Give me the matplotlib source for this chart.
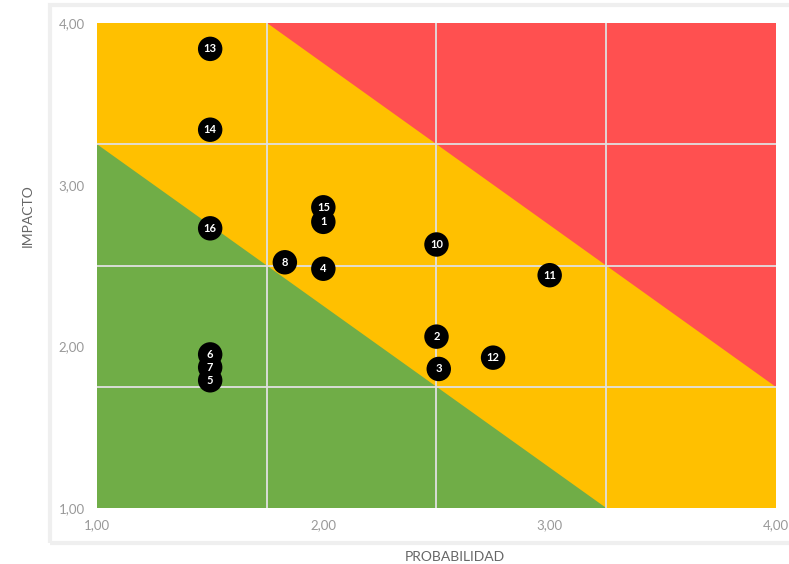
import matplotlib.pyplot as plt
from matplotlib.patches import Polygon, Rectangle

# --- Risk data ---
risk_ids = [1, 2, 3, 4, 5, 6, 7, 8, 10, 11, 12, 13, 14, 15, 16]
probabilidad = [2.00, 2.50, 2.51, 2.00, 1.50, 1.50, 1.50, 1.83, 2.50, 3.00, 2.75, 1.50, 1.50, 2.00, 1.50]
impacto = [2.77, 2.06, 1.86, 2.48, 1.79, 1.95, 1.87, 2.52, 2.63, 2.44, 1.93, 3.84, 3.34, 2.86, 2.73]

tick_values = [1, 2, 3, 4]
tick_labels = ["1,00", "2,00", "3,00", "4,00"]
grid_values = [1.75, 2.5, 3.25]

# zone thresholds (x + y)
low_limit = 4.25
high_limit = 5.75

yellow = '#FFC000'
green = '#70AD47'
red = '#FF5050'

plt.rcParams['font.family'] = ['Lato', 'DejaVu Sans']

fig = plt.figure(figsize=(7.89, 5.64), dpi=100)
ax = fig.add_axes([97 / 789, 56 / 564, 679 / 789, 485 / 564])

# panel frame
fig.patches.append(Rectangle((50 / 789, 21 / 564), 745 / 789, 538 / 564,
                             transform=fig.transFigure, fill=False,
                             edgecolor='#efefef', linewidth=3, zorder=0))

ax.set_xlim(1, 4)
ax.set_ylim(1, 4)

ax.add_patch(Rectangle((1, 1), 3, 3, facecolor=yellow, edgecolor='none', zorder=0))
ax.add_patch(Polygon([(1, 1), (1, low_limit - 1), (low_limit - 1, 1)],
                     facecolor=green, edgecolor='none', zorder=1))
ax.add_patch(Polygon([(high_limit - 4, 4), (4, 4), (4, high_limit - 4)],
                     facecolor=red, edgecolor='none', zorder=1))

for g in grid_values:
    ax.axvline(g, color='#e0e0e0', linewidth=1.3, zorder=2)
    ax.axhline(g, color='#e0e0e0', linewidth=1.3, zorder=2)

ax.scatter(probabilidad, impacto, s=310, color='black', edgecolors='none', zorder=3)
for rid, x, y in zip(risk_ids, probabilidad, impacto):
    ax.text(x, y, str(rid), color='white', fontsize=8, fontweight='bold',
            ha='center', va='center', zorder=4)

ax.set_xticks(tick_values)
ax.set_xticklabels(tick_labels)
ax.set_yticks(tick_values)
ax.set_yticklabels(tick_labels)
ax.tick_params(length=0, labelsize=9.5, labelcolor='#999999')
ax.tick_params(axis='y', pad=9)
ax.tick_params(axis='x', pad=8)

for s in ax.spines.values():
    s.set_visible(False)

fig.text(28 / 789, 1 - 216 / 564, "IMPACTO", rotation=90, ha='center', va='center',
         fontsize=10, color='#666666')
fig.text(455 / 789, 7 / 564, "PROBABILIDAD", ha='center', va='center',
         fontsize=10, color='#666666')

plt.savefig("out.png", dpi=100)
